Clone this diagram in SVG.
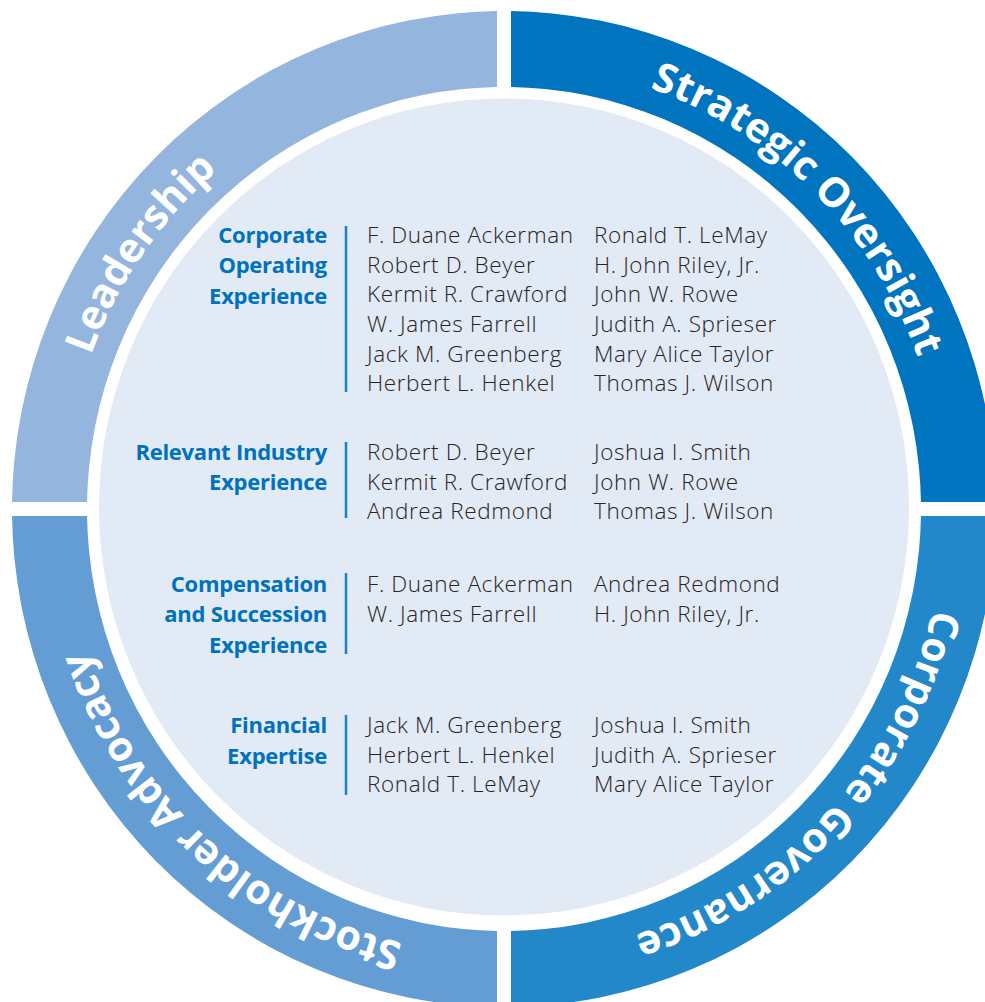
<svg xmlns="http://www.w3.org/2000/svg" width="985" height="1002" viewBox="0 0 985 1002">
  <style>
    .ring-label { font-family: "Open Sans", "Liberation Sans", sans-serif; font-weight: 700; font-size: 41px; fill: #ffffff; }
    .head { font-family: "Open Sans", "Liberation Sans", sans-serif; font-weight: 700; font-size: 22px; letter-spacing: -0.25px; fill: #0072bc; text-anchor: end; }
    .name { font-family: "Open Sans", "Liberation Sans", sans-serif; font-weight: 350; font-size: 22.5px; letter-spacing: 0.6px; fill: #262425; }
    .bar { stroke: #1a80c9; stroke-width: 2.5; }
  </style>
  <defs>
    <!-- annulus shared by the four segments -->
    <path id="annulus" fill-rule="evenodd"
          d="M 996,509 A 492 498 0 1 1 12,509 A 492 498 0 1 1 996,509 Z
             M 921,509 A 417 422 0 1 0 87,509 A 417 422 0 1 0 921,509 Z"/>
    <clipPath id="q-tl"><rect x="0" y="0" width="497" height="502"/></clipPath>
    <clipPath id="q-tr"><rect x="511" y="0" width="474" height="502"/></clipPath>
    <clipPath id="q-br"><rect x="511" y="516" width="474" height="486"/></clipPath>
    <clipPath id="q-bl"><rect x="0" y="516" width="497" height="486"/></clipPath>
    <!-- clockwise baseline for the ring labels, starting at 3 o'clock -->
    <path id="label-track" d="M 944,509 A 440 446 0 1 1 64,509 A 440 446 0 1 1 944,509 Z"/>
  </defs>

  <rect x="0" y="0" width="985" height="1002" fill="#ffffff"/>

  <!-- centre disc -->
  <ellipse id="core" cx="504" cy="507" rx="405" ry="408.5" fill="#e2eaf5"/>

  <!-- ring segments -->
  <g id="seg-leadership"><use href="#annulus" fill="#94b6de" clip-path="url(#q-tl)"/></g>
  <g id="seg-strategic"><use href="#annulus" fill="#0074be" clip-path="url(#q-tr)"/></g>
  <g id="seg-governance"><use href="#annulus" fill="#2388c9" clip-path="url(#q-br)"/></g>
  <g id="seg-advocacy"><use href="#annulus" fill="#639dd4" clip-path="url(#q-bl)"/></g>

  <!-- ring labels -->
  <g id="ring-labels">
    <text class="ring-label"><textPath href="#label-track" startOffset="11.94%" text-anchor="middle">Corporate Governance</textPath></text>
    <text class="ring-label"><textPath href="#label-track" startOffset="36.75%" text-anchor="middle">Stockholder Advocacy</textPath></text>
    <text class="ring-label"><textPath href="#label-track" startOffset="59.7%" text-anchor="middle">Leadership</textPath></text>
    <text class="ring-label"><textPath href="#label-track" startOffset="87.4%" text-anchor="middle">Strategic Oversight</textPath></text>
  </g>

  <!-- Corporate Operating Experience -->
  <g id="sec-operating">
    <text class="head" x="327" y="243">Corporate</text>
    <text class="head" x="327" y="273">Operating</text>
    <text class="head" x="327" y="304">Experience</text>
    <line class="bar" x1="346" y1="226" x2="346" y2="392"/>
    <text class="name" x="367" y="243">F. Duane Ackerman</text>
    <text class="name" x="367" y="273">Robert D. Beyer</text>
    <text class="name" x="367" y="302">Kermit R. Crawford</text>
    <text class="name" x="367" y="332">W. James Farrell</text>
    <text class="name" x="367" y="362">Jack M. Greenberg</text>
    <text class="name" x="367" y="391">Herbert L. Henkel</text>
    <text class="name" x="594" y="243">Ronald T. LeMay</text>
    <text class="name" x="594" y="273">H. John Riley, Jr.</text>
    <text class="name" x="594" y="302">John W. Rowe</text>
    <text class="name" x="594" y="332">Judith A. Sprieser</text>
    <text class="name" x="594" y="362">Mary Alice Taylor</text>
    <text class="name" x="594" y="391">Thomas J. Wilson</text>
  </g>

  <!-- Relevant Industry Experience -->
  <g id="sec-industry">
    <text class="head" x="327" y="460">Relevant Industry</text>
    <text class="head" x="327" y="490">Experience</text>
    <line class="bar" x1="346" y1="442" x2="346" y2="518"/>
    <text class="name" x="367" y="460">Robert D. Beyer</text>
    <text class="name" x="367" y="490">Kermit R. Crawford</text>
    <text class="name" x="367" y="519">Andrea Redmond</text>
    <text class="name" x="594" y="460">Joshua I. Smith</text>
    <text class="name" x="594" y="490">John W. Rowe</text>
    <text class="name" x="594" y="519">Thomas J. Wilson</text>
  </g>

  <!-- Compensation and Succession Experience -->
  <g id="sec-compensation">
    <text class="head" x="327" y="592">Compensation</text>
    <text class="head" x="327" y="622">and Succession</text>
    <text class="head" x="327" y="653">Experience</text>
    <line class="bar" x1="346" y1="573" x2="346" y2="654"/>
    <text class="name" x="367" y="592">F. Duane Ackerman</text>
    <text class="name" x="367" y="622">W. James Farrell</text>
    <text class="name" x="594" y="592">Andrea Redmond</text>
    <text class="name" x="594" y="622">H. John Riley, Jr.</text>
  </g>

  <!-- Financial Expertise -->
  <g id="sec-financial">
    <text class="head" x="327" y="733">Financial</text>
    <text class="head" x="327" y="764">Expertise</text>
    <line class="bar" x1="346" y1="715" x2="346" y2="795"/>
    <text class="name" x="367" y="733">Jack M. Greenberg</text>
    <text class="name" x="367" y="763">Herbert L. Henkel</text>
    <text class="name" x="367" y="792">Ronald T. LeMay</text>
    <text class="name" x="594" y="733">Joshua I. Smith</text>
    <text class="name" x="594" y="763">Judith A. Sprieser</text>
    <text class="name" x="594" y="792">Mary Alice Taylor</text>
  </g>
</svg>
